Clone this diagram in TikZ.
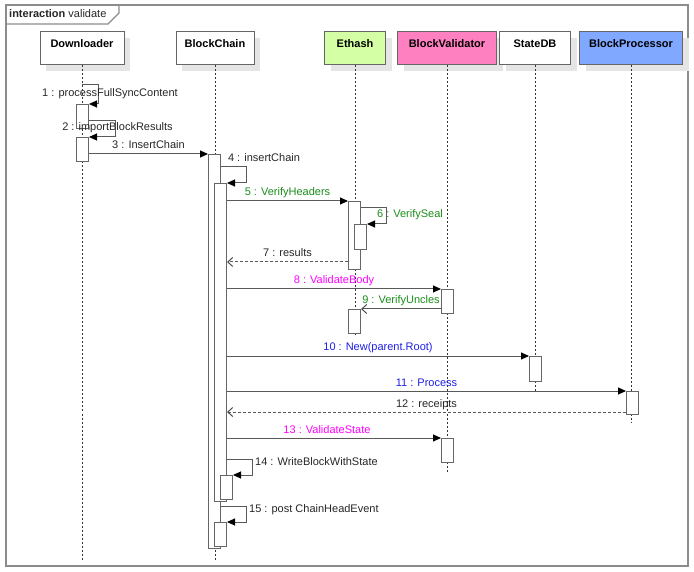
\documentclass[tikz,border=0pt]{standalone}
\usepackage{fontspec}
\setmainfont{Liberation Sans}
\usetikzlibrary{arrows.meta,shadows}

\definecolor{ethgreen}{RGB}{212,255,164}
\definecolor{valpink}{RGB}{255,128,192}
\definecolor{procblue}{RGB}{128,168,255}
\definecolor{callgreen}{RGB}{26,140,26}
\definecolor{callmag}{RGB}{255,0,255}
\definecolor{callblue}{RGB}{30,30,230}

\begin{document}
\begin{tikzpicture}[x=1pt,y=-1pt,font=\fontsize{11}{13}\selectfont,
	party/.style={draw=black!60,fill=white,line width=1pt,minimum height=33pt,text depth=9pt,
		font=\fontsize{11}{13}\selectfont\bfseries,
		drop shadow={shadow xshift=6pt,shadow yshift=-6pt,fill=black!10,opacity=1}},
	life/.style={black!80,line width=0.8pt,dash pattern=on 2pt off 2pt},
	act/.style={draw=black!60,fill=white,line width=1pt,minimum width=12pt,inner sep=0pt,anchor=north west},
	msg/.style={black!65,line width=1pt,-{Triangle[length=8pt,width=7pt,color=black]}},
	async/.style={black!65,line width=1pt,-{Straight Barb[length=5pt,width=9pt,color=black!70]}},
	ret/.style={async,dash pattern=on 3pt off 2pt},
	lbl/.style={text=black!85,text height=8pt,text depth=2.5pt,inner sep=2pt}]

	\useasboundingbox (0,0) rectangle (694,572);

	\draw[black!45,line width=1.3pt] (6,5) rectangle (688,566);
	\draw[black!45,line width=1.3pt] (6,24) -- (108,24) -- (119,13) -- (119,5);
	\node[lbl,anchor=west] (title) at (7,14.5) {\textbf{interaction} validate};

	\node[party,minimum width=84pt] (dl) at (82,48.5) {Downloader};
	\node[party,minimum width=78pt] (bc) at (215,48.5) {BlockChain};
	\node[party,minimum width=61pt,fill=ethgreen] (eth) at (355,48.5) {Ethash};
	\node[party,minimum width=99pt,fill=valpink] (bv) at (447,48.5) {BlockValidator};
	\node[party,minimum width=71pt] (sdb) at (535,48.5) {StateDB};
	\node[party,minimum width=103pt,fill=procblue] (bp) at (631,48.5) {BlockProcessor};

	\foreach \p/\e in {dl/560,bc/560,eth/337,bv/473,sdb/392,bp/423}
		\draw[life] (\p.south) -- (\p.south |- 0,\e);

	\node[act,minimum height=24pt] (a1) at (76,104) {};
	\node[act,minimum height=24pt] (a2) at (76,137) {};
	\node[act,minimum height=394pt] (a3) at (208,154) {};
	\node[act,minimum height=318pt] (a4) at (214,183) {};
	\node[act,minimum height=68pt] (a5) at (348,201) {};
	\node[act,minimum height=25pt] (a6) at (354,224) {};
	\node[act,minimum height=24pt] (a8) at (441,289) {};
	\node[act,minimum height=24pt] (a9) at (348,309) {};
	\node[act,minimum height=25pt] (a10) at (529,356) {};
	\node[act,minimum height=23pt] (a11) at (626,391) {};
	\node[act,minimum height=24pt] (a13) at (441,438) {};
	\node[act,minimum height=24pt] (a14) at (220,475) {};
	\node[act,minimum height=24pt] (a15) at (214,522) {};

	\coordinate (s1) at (82,85);
	\draw[msg] (s1) -- ++(16,0) |- (a1.north east);
	\node[lbl] (l1) at (110,94) {1 : processFullSyncContent};
	\draw[msg] ([yshift=8pt]a1.south east) -- ++(26,0) |- (a2.north east);
	\node[lbl] (l2) at (117.5,128) {2 : importBlockResults};
	\draw[msg] (a2.east |- a3.north west) -- (a3.north west)
		node[lbl,above,midway] (l3) {3 : InsertChain};
	\draw[msg] ([yshift=-13pt]a3.north east) -- ++(25,0) |- (a4.north east);
	\node[lbl] (l4) at (264,159) {4 : insertChain};
	\draw[msg] (a4.east |- a5.north west) -- (a5.north west)
		node[lbl,above,midway,text=callgreen] (l5) {5 : VerifyHeaders};
	\draw[msg] ([yshift=-7pt]a5.north east) -- ++(25,0) |- (a6.north east);
	\node[lbl,text=callgreen] (l6) at (410,215) {6 : VerifySeal};
	\draw[ret] ([yshift=8pt]a5.south west) coordinate (r7) -- (r7 -| a4.east)
		node[lbl,above,midway] (l7) {7 : results};
	\draw[msg] (a4.east |- a8.north west) -- (a8.north west)
		node[lbl,above,midway,text=callmag] (l8) {8 : ValidateBody};
	\draw[async] (a8.west |- a9.north east) -- (a9.north east)
		node[lbl,above,midway,text=callgreen] (l9) {9 : VerifyUncles};
	\draw[msg] (a4.east |- a10.north west) -- (a10.north west)
		node[lbl,above,midway,text=callblue] (l10) {10 : New(parent.Root)};
	\draw[msg] (a4.east |- a11.north west) -- (a11.north west)
		node[lbl,above,midway,text=callblue] (l11) {11 : Process};
	\draw[ret] ([yshift=3pt]a11.south west) coordinate (r12) -- (r12 -| a4.east)
		node[lbl,above,midway] (l12) {12 : receipts};
	\draw[msg] (a4.east |- a13.north west) -- (a13.north west)
		node[lbl,above,midway,xshift=-7pt,text=callmag] (l13) {13 : ValidateState};
	\draw[msg] ([yshift=43pt]a4.south east) -- ++(25,0) |- (a14.north east);
	\node[lbl,anchor=west] (l14) at (253,463) {14 : WriteBlockWithState};
	\draw[msg] ([yshift=43pt]a3.south east) -- ++(25,0) |- (a15.north east);
	\node[lbl,anchor=west] (l15) at (247,510) {15 : post ChainHeadEvent};

\end{tikzpicture}
\end{document}
